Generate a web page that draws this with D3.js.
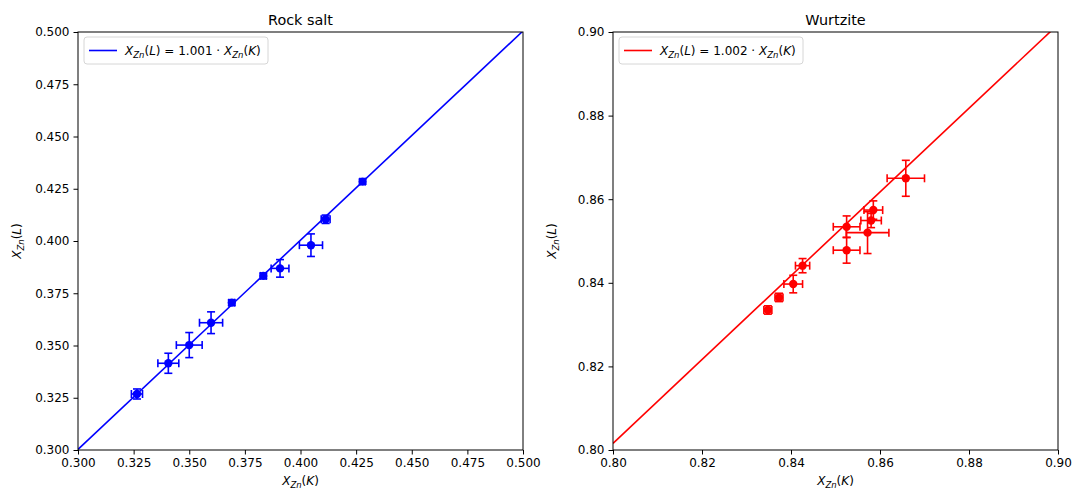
<!DOCTYPE html>
<html>
<head>
<meta charset="utf-8">
<script src="https://cdn.jsdelivr.net/npm/d3@7"></script>
<style>
  body { margin: 0; background: #fff; }
  text { font-family: "DejaVu Sans", sans-serif; fill: #000; }
</style>
</head>
<body>
<svg id="chart" width="1072" height="490"></svg>
<script>
// Rock salt data: x = X_Zn(K), y = X_Zn(L), with errors
const rsX    = [0.3265, 0.3406, 0.3500, 0.3598, 0.3691, 0.3833, 0.3908, 0.4047, 0.4113, 0.4279];
const rsY    = [0.3268, 0.3415, 0.3502, 0.3609, 0.3705, 0.3833, 0.3869, 0.3980, 0.4104, 0.4284];
const rsXErr = [0.0025, 0.0047, 0.0058, 0.0052, 0.0013, 0.0013, 0.0040, 0.0052, 0.0020, 0.0012];
const rsYErr = [0.0024, 0.0048, 0.0060, 0.0052, 0.0013, 0.0013, 0.0042, 0.0054, 0.0020, 0.0012];
const rsSlope = 1.001;

// Wurtzite data
const wzX    = [0.8348, 0.8373, 0.8405, 0.8426, 0.8525, 0.8525, 0.8572, 0.8580, 0.8585, 0.8658];
const wzY    = [0.8335, 0.8365, 0.8397, 0.8441, 0.8534, 0.8478, 0.8520, 0.8549, 0.8574, 0.8650];
const wzXErr = [0.0009, 0.0009, 0.0021, 0.0016, 0.0030, 0.0030, 0.0048, 0.0023, 0.0021, 0.0042];
const wzYErr = [0.0010, 0.0010, 0.0021, 0.0017, 0.0026, 0.0031, 0.0050, 0.0017, 0.0022, 0.0043];
const wzSlope = 1.002;

const rsTicks = [0.300, 0.325, 0.350, 0.375, 0.400, 0.425, 0.450, 0.475, 0.500];
const wzTicks = [0.80, 0.82, 0.84, 0.86, 0.88, 0.90];

const svg = d3.select("#chart");

function drawPanel(opt) {
  const {left, right, top, bottom, domain, ticks, fmt, xs, ys, xerr, yerr, slope, color, title, slopeText, id} = opt;
  const x = d3.scaleLinear().domain(domain).range([left, right]);
  const y = d3.scaleLinear().domain(domain).range([bottom, top]);
  const g = svg.append("g");

  g.append("clipPath").attr("id", "clip" + id)
    .append("rect").attr("x", left).attr("y", top)
    .attr("width", right - left).attr("height", bottom - top);

  const plot = g.append("g").attr("clip-path", `url(#clip${id})`);

  // fit line
  plot.append("line")
    .attr("x1", x(domain[0])).attr("y1", y(slope * domain[0]))
    .attr("x2", x(domain[1])).attr("y2", y(slope * domain[1]))
    .attr("stroke", color).attr("stroke-width", 1.6);

  // error bars
  const cap = 4;
  const pts = xs.map((d, i) => ({x: d, y: ys[i], ex: xerr[i], ey: yerr[i]}));
  const eb = plot.selectAll(".eb").data(pts).enter().append("g")
    .attr("stroke", color).attr("stroke-width", 1.6).attr("fill", "none");
  eb.append("line")
    .attr("x1", d => x(d.x - d.ex)).attr("x2", d => x(d.x + d.ex))
    .attr("y1", d => y(d.y)).attr("y2", d => y(d.y));
  eb.append("line")
    .attr("x1", d => x(d.x)).attr("x2", d => x(d.x))
    .attr("y1", d => y(d.y - d.ey)).attr("y2", d => y(d.y + d.ey));
  [-1, 1].forEach(s => {
    eb.append("line")
      .attr("x1", d => x(d.x + s * d.ex)).attr("x2", d => x(d.x + s * d.ex))
      .attr("y1", d => y(d.y) - cap).attr("y2", d => y(d.y) + cap);
    eb.append("line")
      .attr("x1", d => x(d.x) - cap).attr("x2", d => x(d.x) + cap)
      .attr("y1", d => y(d.y + s * d.ey)).attr("y2", d => y(d.y + s * d.ey));
  });
  plot.selectAll(".pt").data(pts).enter().append("circle")
    .attr("cx", d => x(d.x)).attr("cy", d => y(d.y)).attr("r", 4.2)
    .attr("fill", color);

  // axes
  const xAxis = d3.axisBottom(x).tickValues(ticks).tickFormat(d3.format(fmt)).tickSizeOuter(0).tickSize(4.5).tickPadding(4);
  const yAxis = d3.axisLeft(y).tickValues(ticks).tickFormat(d3.format(fmt)).tickSizeOuter(0).tickSize(4.5).tickPadding(4);
  const ga = g.append("g").attr("transform", `translate(0,${bottom})`).call(xAxis);
  const gb = g.append("g").attr("transform", `translate(${left},0)`).call(yAxis);
  [ga, gb].forEach(a => {
    a.select(".domain").remove();
    a.selectAll("text").style("font-size", "12px").style("font-family", "DejaVu Sans");
    a.selectAll("line").attr("stroke", "#000").attr("stroke-width", 1);
  });

  // frame
  g.append("rect").attr("x", left).attr("y", top)
    .attr("width", right - left).attr("height", bottom - top)
    .attr("fill", "none").attr("stroke", "#000").attr("stroke-width", 1);

  // title
  g.append("text").attr("x", (left + right) / 2).attr("y", 25)
    .attr("text-anchor", "middle").style("font-size", "14.4px").text(title);

  // x label
  const xl = g.append("text").attr("x", (left + right) / 2).attr("y", bottom + 35)
    .attr("text-anchor", "middle").style("font-size", "12px");
  mathPart(xl, "K");

  // y label
  const yl = g.append("text")
    .attr("transform", `translate(${left - 57},${(top + bottom) / 2}) rotate(-90)`)
    .attr("text-anchor", "middle").style("font-size", "12px");
  mathPart(yl, "L");

  // legend
  const lg = g.append("g").attr("transform", `translate(${left + 6},${top + 5})`);
  lg.append("rect").attr("width", 184).attr("height", 27).attr("rx", 3)
    .attr("fill", "#fff").attr("fill-opacity", 0.8).attr("stroke", "#d6d6d6");
  lg.append("line").attr("x1", 5).attr("x2", 33).attr("y1", 13.5).attr("y2", 13.5)
    .attr("stroke", color).attr("stroke-width", 1.6);
  const lt = lg.append("text").attr("x", 41).attr("y", 18).style("font-size", "12px");
  mathPart(lt, "L");
  lt.append("tspan").text(" = " + slopeText + " \u00b7 ");
  mathPart(lt, "K");
}

function mathPart(t, sym) {
  t.append("tspan").style("font-style", "italic").text("X");
  t.append("tspan").style("font-style", "italic").style("font-size", "8.5px").attr("dy", 3).text("Zn");
  t.append("tspan").attr("dy", -3).text("(");
  t.append("tspan").style("font-style", "italic").text(sym);
  t.append("tspan").text(")");
}

drawPanel({id: 1, left: 78, right: 523, top: 32, bottom: 450, domain: [0.3, 0.5], ticks: rsTicks, fmt: ".3f",
  xs: rsX, ys: rsY, xerr: rsXErr, yerr: rsYErr, slope: rsSlope, color: "#0000ff", title: "Rock salt", slopeText: "1.001"});
drawPanel({id: 2, left: 613, right: 1058, top: 32, bottom: 450, domain: [0.8, 0.9], ticks: wzTicks, fmt: ".2f",
  xs: wzX, ys: wzY, xerr: wzXErr, yerr: wzYErr, slope: wzSlope, color: "#ff0000", title: "Wurtzite", slopeText: "1.002"});
</script>
</body>
</html>
